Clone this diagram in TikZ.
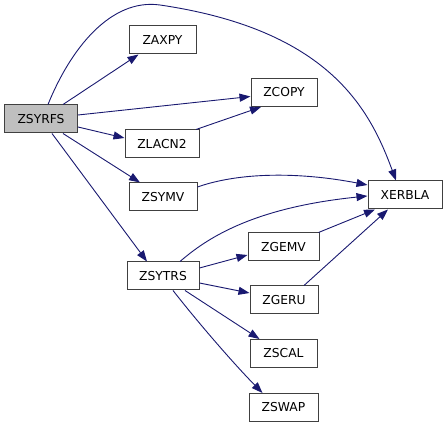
\documentclass[tikz,border=0pt]{standalone}
\usepackage{fontspec}
\setmainfont{DejaVu Sans}
\usetikzlibrary{arrows.meta}
\definecolor{edgecol}{HTML}{191970}
\definecolor{boxline}{HTML}{404040}
\definecolor{rootfill}{HTML}{BFBFBF}
\tikzset{
  fn/.style={draw=boxline, line width=1pt, rectangle, minimum height=28pt, inner sep=0pt, font=\fontsize{12.3}{14}\selectfont, anchor=center},
  root/.style={fn, fill=rootfill},
  edge/.style={draw=edgecol, line width=0.9pt, -{Triangle[length=11pt,width=8pt]}, edgecol}
}
\begin{document}
\begin{tikzpicture}[x=1pt,y=-1pt]
\useasboundingbox (0,0) rectangle (448,427);
\node[root, minimum width=73pt] (zsyrfs) at (41,119) {ZSYRFS};
\node[fn, minimum width=67pt] (zaxpy) at (162.5,40) {ZAXPY};
\node[fn, minimum width=66pt] (zcopy) at (284,92.5) {ZCOPY};
\node[fn, minimum width=74pt] (zlacn2) at (162,144) {ZLACN2};
\node[fn, minimum width=68pt] (zsymv) at (163,197) {ZSYMV};
\node[fn, minimum width=74pt] (xerbla) at (405,195) {XERBLA};
\node[fn, minimum width=72pt] (zsytrs) at (163,276) {ZSYTRS};
\node[fn, minimum width=71pt] (zgemv) at (283.5,247) {ZGEMV};
\node[fn, minimum width=68pt] (zgeru) at (284,300) {ZGERU};
\node[fn, minimum width=67pt] (zscal) at (283.5,353.5) {ZSCAL};
\node[fn, minimum width=69pt] (zswap) at (283.5,407.5) {ZSWAP};

\draw[edge] ([xshift=22pt]zsyrfs.north) -- ([xshift=-24pt]zaxpy.south);
\draw[edge] ([yshift=4pt]zsyrfs.east) -- ([yshift=-4pt]zcopy.west);
\draw[edge] ([yshift=-8pt]zsyrfs.east) -- ([yshift=6pt]zlacn2.west);
\draw[edge] ([xshift=22pt]zsyrfs.south) -- ([xshift=-23pt]zsymv.north);
\draw[edge] ([xshift=11pt]zsyrfs.south) -- ([xshift=-16pt]zsytrs.north);
\draw[edge] ([xshift=7pt]zsyrfs.north) .. controls (70,50) and (110,-2) .. (160,5)
            .. controls (330,30) and (370,110) .. ([xshift=-9pt]xerbla.north);
\draw[edge] ([xshift=34pt]zlacn2.north) -- ([xshift=-23pt]zcopy.south);
\draw[edge] ([yshift=10pt]zsymv.east) .. controls (240,172) and (300,172) .. ([yshift=10pt]xerbla.west);
\draw[edge] ([xshift=17pt]zsytrs.north) .. controls (205,240) and (250,208) .. ([yshift=-1pt]xerbla.west);
\draw[edge] ([xshift=35pt]zgemv.north) -- ([xshift=-30pt]xerbla.south);
\draw[edge] ([xshift=20pt]zgeru.north) -- ([xshift=-17pt]xerbla.south);
\draw[edge] ([yshift=8pt]zsytrs.east) -- ([yshift=-8pt]zgemv.west);
\draw[edge] ([yshift=-7pt]zsytrs.east) -- ([yshift=7pt]zgeru.west);
\draw[edge] ([xshift=22pt]zsytrs.south) -- ([xshift=-24pt]zscal.north);
\draw[edge] ([xshift=10pt]zsytrs.south) .. controls (200,325) and (235,365) .. ([xshift=-21pt]zswap.north);
\end{tikzpicture}
\end{document}
